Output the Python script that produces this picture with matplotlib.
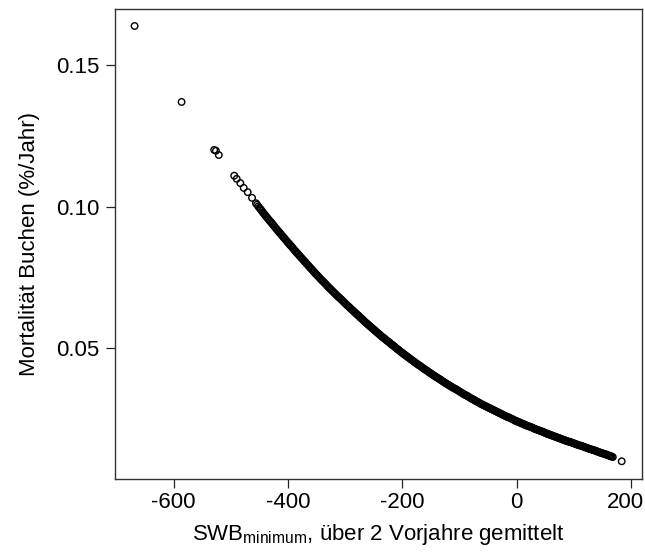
from __future__ import annotations

import matplotlib

matplotlib.use("Agg")
from matplotlib import pyplot as plt

# sparse points at the dry end
swb_sparse = [-668.2, -586.0, -529.0, -526.0, -521.0,
              -494.0, -489.6, -483.3, -477.4, -470.4, -462.8]
mort_sparse = [0.1637, 0.1369, 0.1200, 0.1197, 0.1182,
               0.1109, 0.1098, 0.1083, 0.1066, 0.1051, 0.1031]

# dense band, SWB in steps of 4
swb_dense = list(range(-456, 172, 4))
mort_dense = [
    0.1012, 0.1001, 0.0991, 0.0980, 0.0970,
    0.0960, 0.0950, 0.0941, 0.0931, 0.0921,
    0.0911, 0.0902, 0.0892, 0.0883, 0.0873,
    0.0864, 0.0855, 0.0845, 0.0836, 0.0827,
    0.0818, 0.0809, 0.0800, 0.0791, 0.0782,
    0.0773, 0.0764, 0.0756, 0.0747, 0.0739,
    0.0731, 0.0722, 0.0714, 0.0706, 0.0698,
    0.0690, 0.0682, 0.0675, 0.0667, 0.0659,
    0.0651, 0.0644, 0.0636, 0.0629, 0.0621,
    0.0614, 0.0606, 0.0599, 0.0591, 0.0584,
    0.0577, 0.0570, 0.0563, 0.0556, 0.0549,
    0.0542, 0.0536, 0.0529, 0.0523, 0.0516,
    0.0510, 0.0503, 0.0497, 0.0490, 0.0484,
    0.0478, 0.0472, 0.0466, 0.0460, 0.0454,
    0.0448, 0.0442, 0.0437, 0.0431, 0.0425,
    0.0420, 0.0414, 0.0409, 0.0403, 0.0398,
    0.0393, 0.0388, 0.0382, 0.0377, 0.0372,
    0.0367, 0.0362, 0.0358, 0.0353, 0.0348,
    0.0343, 0.0338, 0.0334, 0.0329, 0.0324,
    0.0320, 0.0315, 0.0311, 0.0306, 0.0302,
    0.0298, 0.0294, 0.0290, 0.0286, 0.0282,
    0.0278, 0.0274, 0.0270, 0.0266, 0.0262,
    0.0258, 0.0255, 0.0251, 0.0247, 0.0243,
    0.0240, 0.0236, 0.0233, 0.0229, 0.0226,
    0.0223, 0.0220, 0.0216, 0.0213, 0.0210,
    0.0207, 0.0204, 0.0200, 0.0197, 0.0194,
    0.0191, 0.0188, 0.0185, 0.0182, 0.0179,
    0.0176, 0.0173, 0.0171, 0.0168, 0.0165,
    0.0162, 0.0159, 0.0157, 0.0154, 0.0151,
    0.0148, 0.0145, 0.0143, 0.0140, 0.0137,
    0.0134, 0.0131, 0.0129, 0.0126, 0.0123,
    0.0120, 0.0117,
]

# the same band read again half a step further on
swb_dense_b = list(range(-454, 168, 4))
mort_dense_b = [
    0.1007, 0.0996, 0.0986, 0.0975, 0.0965,
    0.0955, 0.0946, 0.0936, 0.0926, 0.0916,
    0.0907, 0.0897, 0.0888, 0.0878, 0.0869,
    0.0860, 0.0850, 0.0841, 0.0832, 0.0823,
    0.0814, 0.0805, 0.0796, 0.0787, 0.0778,
    0.0769, 0.0760, 0.0752, 0.0743, 0.0735,
    0.0727, 0.0718, 0.0710, 0.0702, 0.0694,
    0.0686, 0.0679, 0.0671, 0.0663, 0.0655,
    0.0648, 0.0640, 0.0633, 0.0625, 0.0618,
    0.0610, 0.0603, 0.0595, 0.0588, 0.0581,
    0.0574, 0.0567, 0.0560, 0.0553, 0.0546,
    0.0539, 0.0533, 0.0526, 0.0520, 0.0513,
    0.0507, 0.0500, 0.0494, 0.0487, 0.0481,
    0.0475, 0.0469, 0.0463, 0.0457, 0.0451,
    0.0445, 0.0440, 0.0434, 0.0428, 0.0423,
    0.0417, 0.0412, 0.0406, 0.0401, 0.0396,
    0.0391, 0.0385, 0.0380, 0.0375, 0.0370,
    0.0365, 0.0360, 0.0356, 0.0351, 0.0346,
    0.0341, 0.0336, 0.0332, 0.0327, 0.0322,
    0.0318, 0.0313, 0.0309, 0.0304, 0.0300,
    0.0296, 0.0292, 0.0288, 0.0284, 0.0280,
    0.0276, 0.0272, 0.0268, 0.0264, 0.0260,
    0.0257, 0.0253, 0.0249, 0.0245, 0.0242,
    0.0238, 0.0235, 0.0231, 0.0228, 0.0225,
    0.0222, 0.0218, 0.0215, 0.0212, 0.0209,
    0.0206, 0.0202, 0.0199, 0.0196, 0.0193,
    0.0190, 0.0187, 0.0184, 0.0181, 0.0178,
    0.0175, 0.0172, 0.0170, 0.0167, 0.0164,
    0.0161, 0.0158, 0.0156, 0.0153, 0.0150,
    0.0147, 0.0144, 0.0142, 0.0139, 0.0136,
    0.0133, 0.0130, 0.0128, 0.0125, 0.0122,
    0.0119,
]

# the lone point at the wet end
swb_last = [183.6]
mort_last = [0.0102]

x_ticks = [-600, -400, -200, 0, 200]
x_tick_labels = ["-600", "-400", "-200", "0", "200"]
y_ticks = [0.05, 0.10, 0.15]
y_tick_labels = ["0.05", "0.10", "0.15"]

plt.rcParams["font.family"] = ["Liberation Sans", "DejaVu Sans"]
plt.rcParams["mathtext.fontset"] = "custom"
plt.rcParams["mathtext.rm"] = "Liberation Sans"
plt.rcParams["font.size"] = 16

fig = plt.figure(figsize=(6.45, 5.56), dpi=100)
ax = fig.add_axes([0.1778, 0.139, 0.818, 0.8454])

xs = swb_sparse + swb_dense + swb_dense_b + swb_last
ys = mort_sparse + mort_dense + mort_dense_b + mort_last
ax.scatter(xs, ys, s=22, facecolors="none", edgecolors="black", linewidths=1.0)

ax.set_xlim(-703, 219.6)
ax.set_ylim(0.00406, 0.1698)
ax.set_xticks(x_ticks)
# the last label is drawn by hand so it can sit flush with the right edge
ax.set_xticklabels(x_tick_labels[:-1] + [""])
ax.annotate(x_tick_labels[-1], xy=(x_ticks[-1], 0), xycoords=ax.get_xaxis_transform(),
            xytext=(9.5, -9.8), textcoords="offset points", ha="right", va="top",
            annotation_clip=False)
ax.set_yticks(y_ticks)
ax.set_yticklabels(y_tick_labels)
ax.tick_params(direction="out", length=6.3, width=0.9, colors="#222222",
               labelcolor="black")
ax.tick_params(axis="x", pad=3.5)
ax.tick_params(axis="y", pad=4.5)

for sp in ax.spines.values():
    sp.set_color("#333333")
    sp.set_linewidth(1.0)

ax.set_xlabel(r"SWB$_{\mathrm{minimum}}$, über 2 Vorjahre gemittelt", labelpad=6)
ax.set_ylabel("Mortalität Buchen (%/Jahr)", labelpad=12)

fig.savefig("out.png", dpi=100)
